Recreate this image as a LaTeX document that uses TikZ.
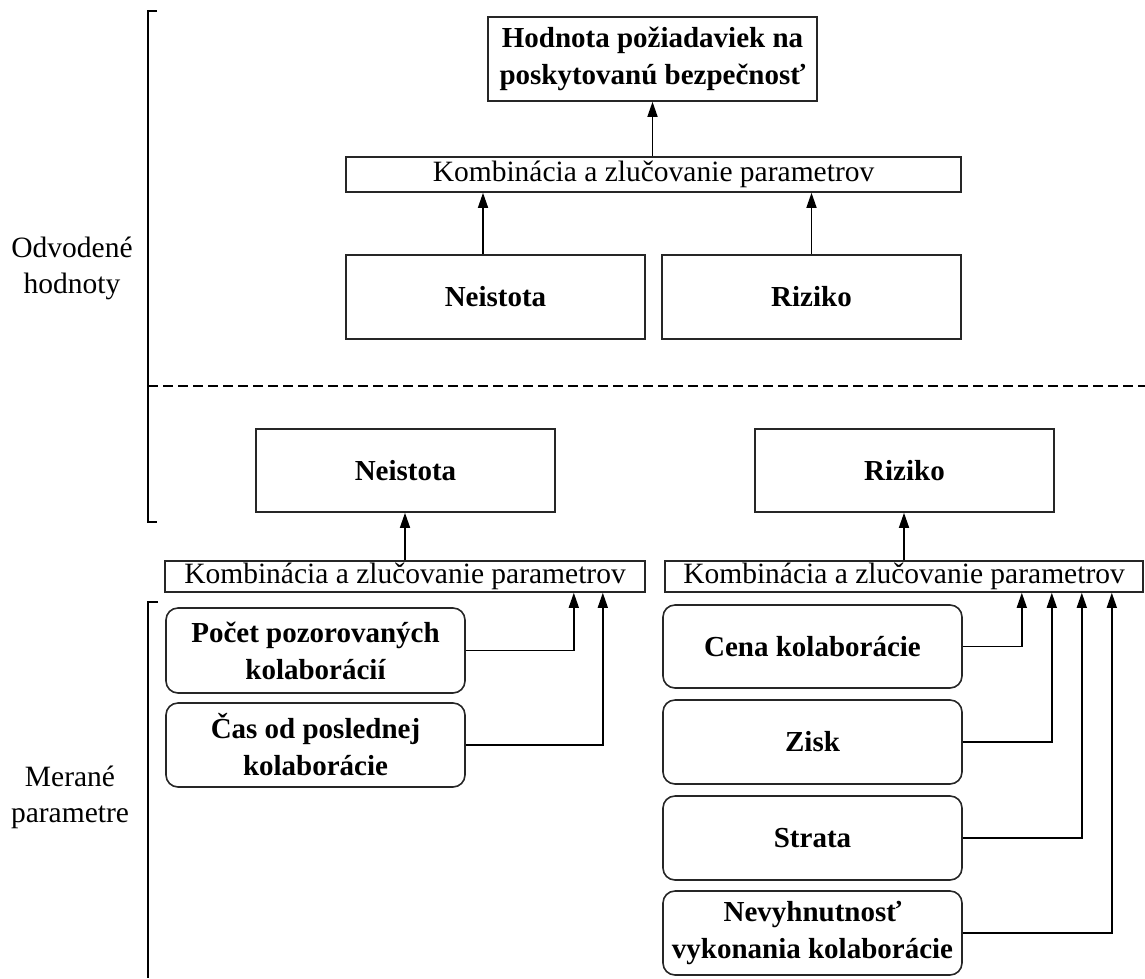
\documentclass[tikz,border=0pt]{standalone}
\usepackage{fontspec}
\setmainfont{Liberation Serif}
\usetikzlibrary{arrows.meta}
\begin{document}
\begin{tikzpicture}[x=1pt,y=-1pt,
  box/.style={draw=black!85, line width=1.6pt, inner sep=0pt, align=center,
    minimum width=299pt, minimum height=84pt, font=\fontsize{29}{37}\selectfont\bfseries},
  rbox/.style={box, rounded corners=12pt},
  kbox/.style={draw=black!85, line width=1.6pt, inner sep=0pt,
    font=\fontsize{29.5}{36}\selectfont},
  arr/.style={line width=1.5pt, -{Triangle[length=15pt,width=10pt]}},
  conn/.style={line width=1.5pt},
  lab/.style={align=center, font=\fontsize{29.5}{36}\selectfont}]
\useasboundingbox (0,0) rectangle (1145,978);

% brackets and separator
\draw[conn] (157,11) -- (148,11) -- (148,522) -- (157,522);
\draw[conn] (158,602) -- (148,602) -- (148,978);
\draw[line width=1.5pt, dash pattern=on 10pt off 5pt] (148,386) -- (1145,386);

% side labels
\node[lab] (odv) at (72,268) {Odvodené\\hodnoty};
\node[lab] (mer) at (70,797) {Merané\\parametre};

% upper part
\node[box, minimum width=329pt] (title) at (652.5,59) {Hodnota požiadaviek na\\poskytovanú bezpečnosť};
\node[kbox, minimum width=615pt, minimum height=35pt] (komb1) at (653.5,174.5) {Kombinácia a zlučovanie parametrov};
\node[box] (neis1) at (495.5,297) {Neistota};
\node[box] (rizi1) at (811.5,297) {Riziko};

% lower part
\node[box, minimum height=83pt] (neis2) at (405.5,470.5) {Neistota};
\node[box, minimum height=83pt] (rizi2) at (904.5,470.5) {Riziko};
\node[kbox, minimum width=480pt, minimum height=31pt] (komb2) at (405,576.5) {Kombinácia a zlučovanie parametrov};
\node[kbox, minimum width=478pt, minimum height=31pt] (komb3) at (904,576.5) {Kombinácia a zlučovanie parametrov};

\node[rbox, minimum height=85pt] (pocet) at (315.5,650.5) {Počet pozorovaných\\kolaborácií};
\node[rbox] (cas) at (315.5,745) {Čas od poslednej\\kolaborácie};

\node[rbox, minimum height=83pt] (cena) at (812.5,646.5) {Cena kolaborácie};
\node[rbox] (zisk) at (812.5,742) {Zisk};
\node[rbox] (strata) at (812.5,838) {Strata};
\node[rbox] (nevyh) at (812.5,933) {Nevyhnutnosť\\vykonania kolaborácie};

% arrows, upper
\draw[arr] (komb1.north -| title.south) -- (title.south);
\draw[arr] ([xshift=-12.5pt]neis1.north) -- ([xshift=-12.5pt]neis1.north |- komb1.south);
\draw[arr] (rizi1.north) -- (rizi1.north |- komb1.south);

% arrows, lower
\draw[arr] (komb2.north) -- (komb2.north |- neis2.south);
\draw[arr] (komb3.north) -- (komb3.north |- rizi2.south);

\draw[arr] (pocet.east) -| ([xshift=-72pt]komb2.south east);
\draw[arr] (cas.east) -| ([xshift=-43pt]komb2.south east);

\draw[arr] (cena.east) -| ([xshift=-122pt]komb3.south east);
\draw[arr] (zisk.east) -| ([xshift=-92pt]komb3.south east);
\draw[arr] (strata.east) -| ([xshift=-62pt]komb3.south east);
\draw[arr] (nevyh.east) -| ([xshift=-32pt]komb3.south east);
\end{tikzpicture}
\end{document}
